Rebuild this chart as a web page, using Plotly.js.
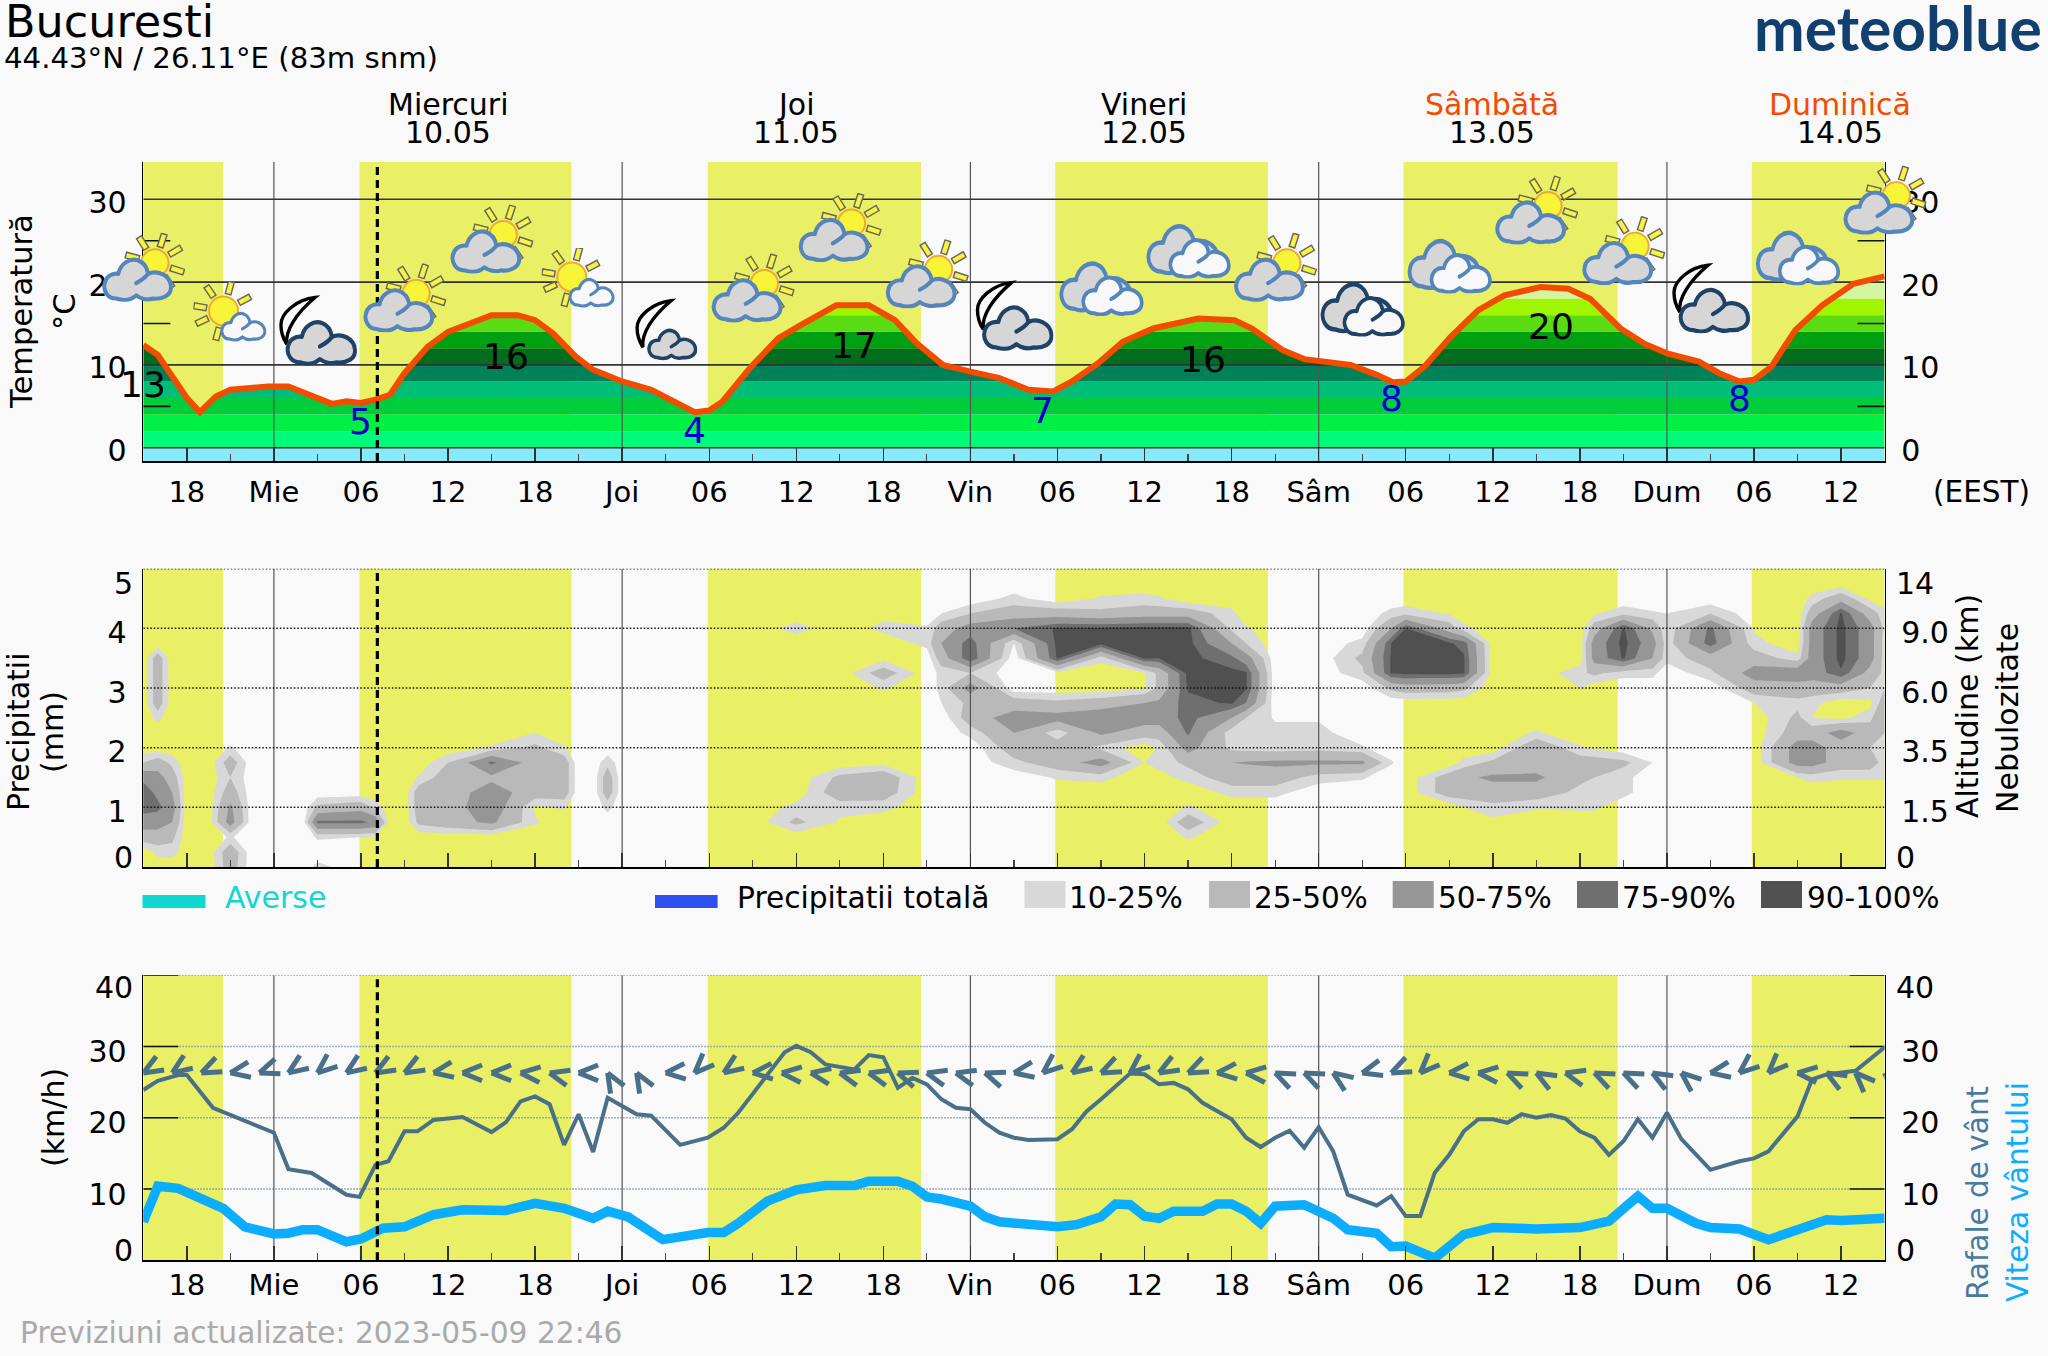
<!DOCTYPE html>
<html><head><meta charset="utf-8">
<script src="https://cdn.plot.ly/plotly-3.0.1.min.js"></script>
<style>html,body{margin:0;padding:0;background:#f9f9f9;overflow:hidden}</style>
</head><body><div id="chart" style="width:2048px;height:1356px"></div>
<script>
// ---------- data (hours counted from Wednesday 00:00) ----------
const tickLabels = ['18','Mie','06','12','18','Joi','06','12','18','Vin','06','12','18','Sâm','06','12','18','Dum','06','12'];
const dayNames = ['Miercuri','Joi','Vineri','Sâmbătă','Duminică'];
const dayDates = ['10.05','11.05','12.05','13.05','14.05'];
const dayNameColors = ['#000','#000','#000','#f24c00','#f24c00'];
const dayLines = [0,24,48,72,96];
const sunUp = [-9,5.9,29.9,53.85,77.85,101.85];
const sunDown = [-3.5,20.5,44.6,68.5,92.6,111];
const nowHour = 7.13;

const tempHours = [-9,-8,-7,-6,-5.1,-4,-3,-2,-0.4,1,2.6,4,5,6,7,8,9,10.6,12,13.7,15,16.8,18,19.25,20.8,22,24,26,28,29,30,30.9,32.9,34.75,36.3,38.75,41,42.8,44.3,46.1,48,50,52,53.7,55,56.8,58.5,60.6,63.7,66.2,67.4,69.5,71,74.2,76,77.1,78,79.3,81.1,83,84.8,87.3,89.2,90.7,92.8,94.4,96,98.2,99.6,101,102,103.2,104.85,106.7,108.85,111];
const tempValues = [12.4,11.2,8.6,6,4.3,6.2,7,7.2,7.4,7.4,6.2,5.3,5.6,5.4,5.8,6.4,9,12.2,14,15.2,16,16,15.4,13.8,11,9.4,8,7,5.2,4.3,4.5,5.55,9.8,13.2,14.8,17.2,17.2,15.4,12.6,10,9.2,8.4,7,6.8,8,10.2,12.8,14.4,15.6,15.4,14.4,11.8,10.7,10,8.8,7.9,8,9.8,13.4,16.6,18.4,19.4,19.2,18,14.4,12.6,11.4,10.4,9,8,8.2,9.8,14.2,17.2,19.8,20.7];
const tempBandEdges = [-2,0,2,4,6,8,10,12,14,16,18,20,24];
const tempBandColors = ['#87e9f9','#00fa7a','#00f046','#00cd3c','#00be78','#008258','#006e1e','#00a012','#5adc14','#a0f500','#d2f5a0','#e8ff9a'];
const maxHours = [-9,16,40,64,88], maxValues = [13,16,17,16,20], maxLabelY = [7.6,11.07,12.4,10.7,14.6];
const minHours = [6,29,53,77,101], minValues = [5,4,7,8,8], minLabelY = [3.2,2.1,4.55,5.9,5.9];

const iconKinds = ['A','B','C','A','A','B','E','A','A','A','C','D','D','A','F','D','A','A','C','D','A'];
const iconLevels = [21.8,16.4,14.2,18.1,25.2,20.5,14.3,19.3,26.6,21,16,19.3,23.8,21.8,16.8,22,28.7,23.8,18.1,23,29.9];

const gustHours = [-9,-8,-6.6,-6,-4.2,0,1,2.6,5,5.9,7,7.9,9,9.9,11,13,15,16,17,18,19,20,21,22,23,25,26,28,29.9,31,32,34,35.2,36,37,38,40,41,42,43,44,45,46,47,48,49,50,51,52,54,55,56,57,59,60,61,62,63,64,66,67,68,69,70,71,72,73,74,76,77,78,79,80,81,82,83,84,85,86,87,88,89,90,91,92,93,94,95,96,97,99,101,102,103,105,106,107,109,111];
const gustValues = [23.9,25.2,26,26,21.4,17.9,12.8,12.25,9.2,8.9,13.4,13.9,18.1,18.1,19.7,20.1,18,19.4,22.3,23,21.9,16.2,20.5,15.2,22.8,20.5,20.3,16.2,17.2,18.6,20.7,25.9,29.2,30.1,29.2,27.5,26.8,28.8,28.5,24.2,25.6,24.7,22.6,21.4,21.2,19.3,17.9,17.2,16.9,17,18.4,20.9,22.6,26.2,26.1,24.7,24.9,24,22.1,19.8,17.2,15.9,17.2,18.2,15.8,18.7,15.3,9.2,7.7,9,6.2,6.2,12.3,14.8,18.1,19.8,19.8,19.3,20.5,20,20.4,19.9,18.1,17.2,14.8,16.7,19.8,17.2,20.7,17,12.7,13.9,14.3,15.3,20.2,25.4,26.1,26.6,29.9];
const speedHours = [-9,-8,-6.6,-5,-3.5,-2,0,1,2,3,5,6,7.5,9,11,13,15,16,18,20,22,23,24.4,26.8,29.9,31,32,34,36,38,40,41,43,44,45,46,48,49,50,52,54,55.3,57,58,59,60,61,62,64,65,66,67,68,69,71,73,74,76,77,78,80,82,84,87,90,92,94,95,96,98,99,101,103,105,107,108,111];
const speedValues = [5.4,10.4,10.1,8.7,7.3,4.7,3.7,3.8,4.3,4.3,2.6,3,4.5,4.7,6.4,7.1,6.9,7,8,7.3,5.9,6.9,6.1,2.9,3.9,3.9,5.2,8.3,9.9,10.5,10.5,11.1,11.1,10.4,8.9,8.6,7.6,6.1,5.4,5,4.7,5,6.1,7.9,7.8,6.2,5.9,6.9,6.9,7.9,7.9,6.9,5.2,7.6,7.8,5.9,4.3,3.8,1.9,2,0.3,3.6,4.6,4.4,4.6,5.5,9,7.3,7.3,5.2,4.6,4.4,2.9,4.3,5.7,5.6,5.9];
const windLevel = 26.3;
// direction of each wind mark (one every two hours), degrees
const windAngles = [30,35,25,10,20,35,40,35,30,30,10,0,0,-5,-15,0,-60,-60,5,45,35,5,-5,-10,-15,-15,-20,-15,-15,-20,
                    10,40,35,25,40,30,25,5,-5,-25,-25,-35,15,25,45,5,-5,-25,-30,-15,-25,-25,-30,-40,10,40,45,-5,-30,-45,-45];

const showersMm = [0], totalPrecipMm = [0];

const cloudAltRows = [0,.25,.5,.75,1,1.25,1.5,1.75,2,2.25,2.5,2.75,3,3.25,3.5,3.75,4,4.25,4.5,4.75,5];
const cloudHours = [-9,-8,-7,-6,-4.5,-3,-1.5,2,3,6,7,8,9,10,12,15,18,20,21,22,23,24,33,36,39,42,45,46,48,51,54,57,60,61,63,66,67,69,72,75,77,78,81,82,84,87,90,91,93,95,96,99,102,105,106,108,110,111];
const cloudCover = [
[0,0,37,62,85,85,70,25,0,0,0,0,0,0,0,0,0,0,0,0,0],
[0,15,37,62,80,70,60,37,0,0,15,37,37,37,37,0,0,0,0,0,0],
[0,17,30,50,62,50,37,20,0,0,0,0,0,0,0,0,0,0,0,0,0],
[0,0,0,0,0,0,0,0,0,0,0,0,0,0,0,0,0,0,0,0,0],
[0,0,0,0,0,0,0,0,0,0,0,0,0,0,0,0,0,0,0,0,0],
[37,40,12,62,55,37,25,37,12,0,0,0,0,0,0,0,0,0,0,0,0],
[0,0,0,0,0,0,0,0,0,0,0,0,0,0,0,0,0,0,0,0,0],
[0,0,0,0,0,0,0,0,0,0,0,0,0,0,0,0,0,0,0,0,0],
[15,0,12,80,30,0,0,0,0,0,0,0,0,0,0,0,0,0,0,0,0],
[0,0,10,80,40,0,0,0,0,0,0,0,0,0,0,0,0,0,0,0,0],
[12,0,8,70,20,0,0,0,0,0,0,0,0,0,0,0,0,0,0,0,0],
[0,0,0,0,0,0,0,0,0,0,0,0,0,0,0,0,0,0,0,0,0],
[0,0,0,0,0,0,0,0,0,0,0,0,0,0,0,0,0,0,0,0,0],
[0,0,0,30,37,37,12,0,0,0,0,0,0,0,0,0,0,0,0,0,0],
[0,0,0,40,37,37,37,25,0,0,0,0,0,0,0,0,0,0,0,0,0],
[0,0,0,55,68,62,45,80,12,0,0,0,0,0,0,0,0,0,0,0,0],
[0,0,0,12,8,37,37,37,30,10,0,0,0,0,0,0,0,0,0,0,0],
[0,0,0,0,12,37,37,37,12,0,0,0,0,0,0,0,0,0,0,0,0],
[0,0,0,0,0,0,0,0,0,0,0,0,0,0,0,0,0,0,0,0,0],
[0,0,0,0,0,0,0,0,0,0,0,0,0,0,0,0,0,0,0,0,0],
[0,0,0,0,15,37,37,20,0,0,0,0,0,0,0,0,0,0,0,0,0],
[0,0,0,0,0,0,0,0,0,0,0,0,0,0,0,0,0,0,0,0,0],
[0,0,0,0,0,0,0,0,0,0,0,0,0,0,0,0,0,0,0,0,0],
[0,0,0,30,15,0,0,0,0,0,0,0,0,0,0,0,17,0,0,0,0],
[0,0,0,8,14,40,30,0,0,0,0,0,0,0,0,0,0,0,0,0,0],
[0,0,0,0,15,37,40,5,0,0,0,0,12,37,5,0,15,5,0,0,0],
[0,0,0,0,0,0,0,0,0,0,0,0,0,0,0,15,12,0,0,0,0],
[0,0,0,0,0,0,0,0,0,0,0,10,15,15,37,50,37,10,0,0,0],
[0,0,0,0,0,0,0,0,0,15,37,30,62,25,90,85,62,25,0,0,0],
[0,0,0,0,0,0,0,20,37,50,62,37,0,0,0,10,75,37,15,0,0],
[0,0,0,0,0,0,12,37,37,15,60,30,0,5,92,95,92,37,0,0,0],
[0,0,0,0,0,0,15,62,20,55,68,37,0,0,15,95,92,30,12,0,0],
[0,0,0,0,0,0,0,10,0,37,62,50,8,8,92,95,95,37,15,0,0],
[0,0,0,0,0,0,5,15,12,37,62,55,30,30,90,95,95,37,12,0,0],
[0,0,12,40,12,0,15,30,60,78,82,85,92,95,95,95,95,37,0,0,0],
[0,0,0,0,0,15,37,50,20,15,50,92,95,95,80,50,20,15,0,0,0],
[0,0,0,0,0,15,37,52,18,10,25,75,92,92,62,25,12,0,0,0,0],
[0,0,0,0,0,15,37,55,15,15,8,0,0,0,0,0,0,0,0,0,0],
[0,0,0,0,0,0,17,55,18,15,8,0,0,0,0,0,0,0,0,0,0],
[0,0,0,0,0,0,12,55,12,0,0,0,0,20,30,15,0,0,0,0,0],
[0,0,0,0,0,0,0,12,0,0,0,0,30,92,92,90,50,15,0,0,0],
[0,0,0,0,0,0,0,0,0,0,0,0,37,95,95,95,90,20,0,0,0],
[0,0,0,0,0,37,37,0,0,0,0,0,35,95,95,92,37,8,0,0,0],
[0,0,0,0,10,37,45,15,0,0,0,0,30,92,92,85,15,0,0,0,0],
[0,0,0,5,20,37,55,30,0,0,0,0,0,0,0,0,0,0,0,0,0],
[0,0,0,0,12,37,55,37,45,12,0,0,0,0,0,0,0,0,0,0,0],
[0,0,0,0,13,20,30,37,12,0,0,0,10,20,0,0,0,0,0,0,0],
[0,0,0,0,13,20,25,35,8,0,0,0,0,30,60,62,37,8,0,0,0],
[0,0,0,0,0,15,15,30,0,0,0,0,0,15,92,95,92,20,0,0,0],
[0,0,0,0,0,0,0,10,0,0,0,0,0,15,50,62,45,12,0,0,0],
[0,0,0,0,0,0,0,0,0,0,0,0,0,0,15,15,12,10,0,0,0],
[0,0,0,0,0,0,0,0,0,0,0,0,0,20,37,85,80,25,0,0,0],
[0,0,0,0,0,0,0,0,0,0,0,10,37,62,37,15,8,0,0,0,0],
[0,0,0,0,0,0,10,62,62,37,30,20,37,70,15,0,0,0,0,0,0],
[0,0,0,0,0,0,15,62,62,37,10,15,37,62,62,62,62,37,15,0,0],
[0,0,0,0,0,0,12,37,37,62,5,0,37,88,95,95,95,92,40,0,0],
[0,0,0,0,0,0,12,37,25,37,20,5,25,40,62,62,62,37,5,0,0],
[0,0,0,0,0,0,12,17,15,25,50,37,25,20,17,17,20,15,0,0,0]
];
const cloudLevels = [10,25,50,75,90];
const cloudColors = ['#d8d8d8','#b9b9b9','#969696','#6f6f6f','#505050'];
const legendLabels = ['10-25%','25-50%','50-75%','75-90%','90-100%'];

// ---------- frame ----------
const W = 2048, H = 1356;
const FONT = 'DejaVu Sans';
const xL = 143.3, xR = 1884.6;
const pxH = 14.5, pxC = 8.28, pxK = 7.125;
const P1 = [162, 461], P2 = [568.7, 867], P3 = [975.3, 1260.3];
const dom = p => [1 - p[1]/H, 1 - p[0]/H];
const xRange = [-9, 111];
const range1 = [-1.6, 34.5];
const ink = '#000';

// ---------- icons (inline SVG) ----------
const CLOUD = 'M14,65C4,65 1,56 2,51C3,44 9,40 16,41C18,31 28,25 36,28C42,30 45,35 46,41C55,37 68,42 69,53C70,62 60,66 51,65C45,67 38,65 34,62C28,67 20,67 14,65Z';
const CURL = 'M34,50C38,48 43,45 46,41';
const MOON = 'M37,2C18,4 2,18 2,30C2,38 4,44 8,50C6,36 18,18 37,2Z';
function cloud(tf, fill, stroke, sw){
  return `<g transform="${tf}" fill="none" stroke="${stroke}" stroke-width="${sw}" stroke-linejoin="round" stroke-linecap="round"><path d="${CLOUD}" fill="${fill}"/><path d="${CURL}"/></g>`;
}
function sun(cx,cy,r,r1,r2,angles){
  let s='';
  angles.forEach(a=>{
    const c=Math.cos(a*Math.PI/180), n=Math.sin(a*Math.PI/180);
    const pts=[[r1,-3],[r2,-3],[r2,3],[r1,3]].map(q=>(cx+q[0]*c+q[1]*n)+','+(cy-q[0]*n+q[1]*c)).join(' ');
    s+=`<polygon points="${pts}" fill="#f8f33c" stroke="#666" stroke-width="1.5"/>`;
  });
  return s+`<circle cx="${cx}" cy="${cy}" r="${r}" fill="#f8f539" stroke="#f0a830" stroke-width="2"/>`;
}
const BLUE='#5486bd', NAVY='#1f4266', GRAY='#d6d6d6', PALE='#f8f8fb';
const iconDefs = {
  A:{w:84,h:69,svg:sun(54,30,14,17,31,[72,122,30,-18,165,-55])+cloud('scale(1.02,1.06) translate(0,-2)', GRAY, BLUE, 4)},
  B:{w:74,h:60,svg:sun(30,29,15,18,31,[75,125,28,170,205,255,-30])+cloud('translate(27,30) scale(.66,.7) translate(0,-25)', PALE, BLUE, 4.6)},
  C:{w:79,h:71,svg:`<path d="${MOON}" fill="#f9f9f9" stroke="#000" stroke-width="3.5"/>`+cloud('translate(7,-2.25) scale(1.03,1.09)', GRAY, NAVY, 4)},
  E:{w:63,h:63,svg:`<path d="${MOON}" fill="#f9f9f9" stroke="#000" stroke-width="3.5"/>`+cloud('translate(13,31) scale(.714,.74) translate(0,-25)', GRAY, NAVY, 5)},
  D:{w:86,h:56,svg:cloud('translate(0,-31) scale(1.07,1.24)', GRAY, BLUE, 3.7)+cloud('translate(23,-9.5) scale(.9,.98)', PALE, BLUE, 4.2)},
  F:{w:86,h:56,svg:cloud('translate(0,-31) scale(1.07,1.24)', GRAY, NAVY, 3.7)+cloud('translate(23,-9.5) scale(.9,.98)', PALE, NAVY, 4.2)}
};
const iconUri = k => 'data:image/svg+xml;charset=utf-8,' + encodeURIComponent(
  `<svg xmlns="http://www.w3.org/2000/svg" viewBox="-1 -1 ${iconDefs[k].w+2} ${iconDefs[k].h+2}" width="${iconDefs[k].w}" height="${iconDefs[k].h}">${iconDefs[k].svg}</svg>`);
// hours/levels to paper fractions so that icons may overhang the panel, as they do in the reference
const paperX = h => (xL + (h - xRange[0]) * (xR - xL) / (xRange[1] - xRange[0])) / W;
const paperY = v => 1 - (P1[1] - (v - range1[0]) * (P1[1] - P1[0]) / (range1[1] - range1[0])) / H;
const images = iconKinds.map((k,i)=>({source:iconUri(k),xref:'paper',yref:'paper',x:paperX(-9+6*i),y:paperY(iconLevels[i]),
  sizex:iconDefs[k].w/W,sizey:iconDefs[k].h/H,sizing:'stretch',xanchor:'center',yanchor:'middle',layer:'above'}));

// ---------- traces ----------
const traces = [];
const line = (xa,ya,x,y,color,width,dash) => ({type:'scatter',mode:'lines',xaxis:xa,yaxis:ya,x,y,hoverinfo:'skip',showlegend:false,cliponaxis:false,
   line:{color,width,dash:dash||'solid'}});
// long inward ticks on both sides of a value axis
function axisStubs(xa,ya,values,lenPx){
  const dx=lenPx/pxH, X=[], Y=[];
  values.forEach(v=>{X.push(xRange[0],xRange[0]+dx,null,xRange[1]-dx,xRange[1],null);Y.push(v,v,null,v,v,null);});
  return line(xa,ya,X,Y,'#111',1.6);
}

// panel 1: temperature colour bands below the curve; the band edges are added to the curve so each stripe stays level
const bandX=[], bandT=[];
tempHours.forEach((h,i)=>{
  bandX.push(h); bandT.push(tempValues[i]);
  if(i+1<tempHours.length){
    const a=tempValues[i], b=tempValues[i+1], cuts=tempBandEdges.filter(e=>(a<e&&e<b)||(b<e&&e<a));
    if(b<a) cuts.reverse();
    cuts.forEach(e=>{bandX.push(h+(e-a)/(b-a)*(tempHours[i+1]-h)); bandT.push(e);});
  }
});
tempBandColors.forEach((c,i)=>{
  const a=tempBandEdges[i], b=tempBandEdges[i+1];
  traces.push({type:'scatter',mode:'lines',x:bandX,y:bandT.map(v=>Math.min(v,a)),xaxis:'x',yaxis:'y',line:{width:0},hoverinfo:'skip',showlegend:false});
  traces.push({type:'scatter',mode:'lines',x:bandX,y:bandT.map(v=>Math.min(v,b)),xaxis:'x',yaxis:'y',line:{width:0},fill:'tonexty',fillcolor:c,hoverinfo:'skip',showlegend:false});
});
const dayX=[], dayY1=[], dayY2=[], dayY3=[];
dayLines.forEach(h=>{dayX.push(h,h,null);dayY1.push(range1[0],range1[1],null);dayY2.push(0,5,null);dayY3.push(0,40,null);});
traces.push(line('x','y4',dayX,dayY1,'#555',1.2));
[0,10,20,30].forEach(v=>{const t=line('x','y4',xRange,[v,v],'#333',1.6);t.cliponaxis=true;traces.push(t);});
traces.push(axisStubs('x','y4',[5,15,25],27));
traces.push(line('x','y4',tempHours,tempValues,'#f24c00',6));
traces.push(line('x','y4',[nowHour,nowHour],range1,'#000',3.2,'8px,5px'));

// panel 2: precipitation (none forecast) and cloud cover by altitude
traces.push({type:'bar',x:[-9],y:showersMm,xaxis:'x2',yaxis:'y2',marker:{color:'#10d8d0'},hoverinfo:'skip',showlegend:false});
traces.push({type:'bar',x:[-9],y:totalPrecipMm,xaxis:'x2',yaxis:'y2',marker:{color:'#2f50f0'},hoverinfo:'skip',showlegend:false});
cloudLevels.forEach((lv,i)=>traces.push({type:'contour',xaxis:'x2',yaxis:'y5',x:cloudHours,y:cloudAltRows,z:cloudCover,transpose:true,
  autocontour:false,contours:{start:lv,end:lv,size:1,coloring:'fill',showlines:false},line:{width:0,smoothing:0},
  colorscale:[[0,'rgba(0,0,0,0)'],[0.5,'rgba(0,0,0,0)'],[0.5,cloudColors[i]],[1,cloudColors[i]]],showscale:false,hoverinfo:'skip',showlegend:false}));
traces.push(line('x2','y5',dayX,dayY2,'#555',1.2));
[1,2,3,4,5].forEach(v=>traces.push(line('x2','y5',xRange,[v,v],'#111',1.5,'1.5px,2px')));
traces.push(line('x2','y5',[nowHour,nowHour],[0,5],'#000',3.2,'8px,5px'));

// panel 3: wind
[10,20,30,40].forEach(v=>traces.push(line('x3','y3',xRange,[v,v],'#7f97ae',1.4,'1.5px,1.5px')));
traces.push(axisStubs('x3','y3',[10,20,30,40],35));
traces.push(line('x3','y6',dayX,dayY3,'#555',1.2));
const barbX=[], barbY=[], ARM=21, HALF=22;
windAngles.forEach((a,i)=>{
  const h=-9+2*i;
  [a+HALF,a-HALF].forEach(t=>{
    const r=t*Math.PI/180;
    barbX.push(h+ARM*Math.cos(r)/pxH,h,null);
    barbY.push(windLevel+ARM*Math.sin(r)/pxK,windLevel,null);
  });
});
traces.push(line('x3','y6',barbX,barbY,'#4a7089',5));
traces.push(line('x3','y6',gustHours,gustValues,'#4a7089',4));
traces.push(line('x3','y6',speedHours,speedValues,'#0cadfd',9.5));
traces.push(line('x3','y6',[nowHour,nowHour],[0,40],'#000',3.2,'8px,5px'));

// ---------- shapes ----------
const shapes=[];
const yellow='#e9f066';
[['x','y'],['x2','y2'],['x3','y3']].forEach(([xa,ya])=>{
  sunUp.forEach((u,i)=>shapes.push({type:'rect',layer:'below',xref:xa,yref:ya+' domain',x0:u,x1:sunDown[i],y0:0,y1:1,fillcolor:yellow,line:{width:0}}));
});
const paperRect=(x0,x1,y0,y1,c)=>({type:'rect',xref:'paper',yref:'paper',x0:x0/W,x1:x1/W,y0:1-y1/H,y1:1-y0/H,fillcolor:c,line:{width:0},layer:'above'});
shapes.push(paperRect(142.5,205.5,895,908,'#10d8d0'));
shapes.push(paperRect(655,717.6,895,908,'#2f50f0'));
const swatchX=[1024.5,1209,1392.7,1577,1761];
cloudColors.forEach((c,i)=>shapes.push(paperRect(swatchX[i],swatchX[i]+41,881,908,c)));

// ---------- text ----------
const ann=[];
const PAD=3;
const T=(text,x,y,size,opt)=>{
  const o=opt||{};
  const dx=o.xanchor==='left'?-PAD:(o.xanchor==='right'?PAD:0);
  ann.push(Object.assign({text,xref:'paper',yref:'paper',x:(x+dx)/W,y:1-y/H,showarrow:false,
   xanchor:'center',yanchor:'middle',font:{family:FONT,size,color:'#000'}},o));
};
T('Bucuresti',6,22,44.5,{xanchor:'left'});
T('44.43°N / 26.11°E (83m snm)',5,58,29.2,{xanchor:'left'});
ann.push({text:'meteoblue',xref:'paper',yref:'paper',x:2044/W,y:1-28/H,xanchor:'right',yanchor:'middle',showarrow:false,font:{family:'Lato',size:60.5,color:'#12406e',weight:700}});
dayNames.forEach((d,i)=>{
  const cx=274.3+pxH*(12+24*i);
  T(`<span style="color:${dayNameColors[i]}">${d}</span>`,cx,105,30);
  T(dayDates[i],cx,132,30);
});
T('(EEST)',1981,492,29.5);
const rot={textangle:-90};
T('Temperatură',21,312,30.5,rot); T('°C',64,312,30.5,rot);
T('Precipitatii',19,732,30,rot); T('(mm)',53,732,30,rot);
T('Altitudine (km)',1967,706,30,rot); T('Nebulozitate',2007,718,30,rot);
T('(km/h)',53,1118,30,rot);
T('Rafale de vânt',1978,1193,29.5,Object.assign({font:{family:FONT,size:29.5,color:'#4a7a9b'}},rot));
T('Viteza vântului',2018,1192,29.5,Object.assign({font:{family:FONT,size:29.5,color:'#0cadfd'}},rot));
T('Averse',225.6,898,30,{xanchor:'left',font:{family:FONT,size:30,color:'#10d8d0'}});
T('Precipitatii totală',737.7,898,29.7,{xanchor:'left'});
const legX=[1070,1255,1439,1623,1808];
legendLabels.forEach((s,i)=>T(s,legX[i],898,29.5,{xanchor:'left'}));
T('Previziuni actualizate: 2023-05-09 22:46',21,1332,29.7,{xanchor:'left',font:{family:FONT,size:29.7,color:'#aaa'}});
// axis end labels sit inside the frame in this layout
const endLabels=[['5','14',583],['0','0',857],['40','40',988],['0','0',1250]];
endLabels.forEach(([l,r,y])=>{T(l,132,y,30,{xanchor:'right'});T(r,1897,y,30,{xanchor:'left'});});
maxHours.forEach((h,i)=>ann.push({text:String(maxValues[i]),xref:'x',yref:'y',x:h,y:maxLabelY[i],showarrow:false,font:{family:FONT,size:36,color:'#000'}}));
minHours.forEach((h,i)=>ann.push({text:String(minValues[i]),xref:'x',yref:'y',x:h,y:minLabelY[i],showarrow:false,font:{family:FONT,size:36,color:'#0000cc'}}));

// ---------- axes ----------
const xTicks=tickLabels.map((_,i)=>-6+6*i);
const xAxis=(anchor,labels,standoff)=>({domain:[xL/W,xR/W],range:xRange,anchor,showgrid:false,zeroline:false,showline:true,linecolor:ink,linewidth:1.6,
  tickmode:'array',tickvals:xTicks,ticktext:tickLabels,ticks:'inside',ticklen:14,tickcolor:'#333',tickwidth:1.4,showticklabels:labels,
  tickfont:{family:FONT,size:29,color:'#000'},ticklabelstandoff:standoff,
  minor:{tickmode:'linear',tick0:-9,dtick:3,ticks:'inside',ticklen:7,tickcolor:'#444',tickwidth:1.2}});
const yAxis=(domain,range,anchor,side,vals,text,shift,overlay)=>{
  const o={domain,range,anchor,side,showgrid:false,zeroline:false,showline:true,linecolor:ink,linewidth:1.6,
    tickmode:'array',tickvals:vals,ticktext:text,ticks:'inside',ticklen:0,ticklabelstandoff:9,ticklabelshift:shift,
    tickfont:{family:FONT,size:30,color:'#000'}};
  if(overlay) o.overlaying=overlay;
  return o;
};
const layout={width:W,height:H,margin:{l:0,r:0,t:0,b:0},paper_bgcolor:'#f9f9f9',plot_bgcolor:'#f9f9f9',showlegend:false,bargap:0.5,
  xaxis:xAxis('y',true,5), xaxis2:xAxis('y2',false,5), xaxis3:xAxis('y3',true,-2),
  yaxis:yAxis(dom(P1),range1,'x','left',[0,10,20,30],['0','10','20','30'],3),
  yaxis4:yAxis(dom(P1),range1,'x','right',[0,10,20,30],['0','10','20','30'],3,'y'),
  yaxis2:yAxis(dom(P2),[0,5],'x2','left',[1,2,3,4],['1','2','3','4'],4),
  yaxis5:yAxis(dom(P2),[0,5],'x2','right',[1,2,3,4],['1.5','3.5','6.0','9.0'],4,'y2'),
  yaxis3:yAxis(dom(P3),[0,40],'x3','left',[10,20,30],['10','20','30'],5),
  yaxis6:yAxis(dom(P3),[0,40],'x3','right',[10,20,30],['10','20','30'],5,'y3'),
  shapes,annotations:ann,images};
Plotly.newPlot('chart',traces,layout,{displayModeBar:false,staticPlot:true});
</script></body></html>
